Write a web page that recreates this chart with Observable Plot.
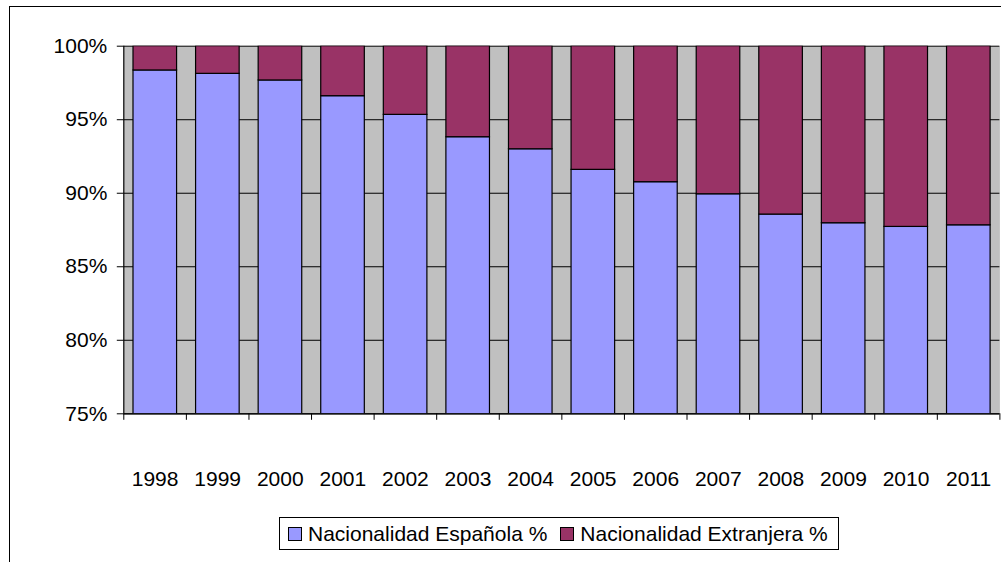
<!DOCTYPE html>
<html>
<head>
<meta charset="utf-8">
<script src="https://cdn.jsdelivr.net/npm/d3@7"></script>
<script src="https://cdn.jsdelivr.net/npm/@observablehq/plot@0.6"></script>
<style>
  html, body { margin: 0; padding: 0; background: #fff; }
  #wrap { position: relative; width: 1001px; height: 562px; overflow: hidden; font-family: "Liberation Sans", Arial, sans-serif; }
  #frame { position: absolute; left: 9px; top: 6px; width: 1200px; height: 800px; border: 1px solid #000; box-sizing: border-box; }
  #chart { position: absolute; left: 0; top: 0; }
  #legend { position: absolute; left: 279px; top: 517px; height: 33px; box-sizing: border-box; border: 1px solid #000; background: #fff;
            display: flex; align-items: center; padding: 0 10px 0 8px; font-size: 21px; color: #000; white-space: nowrap; }
  .item { display: flex; align-items: center; }
  .item + .item { margin-left: 13px; }
  .sw { width: 12px; height: 12px; border: 1px solid #000; margin-right: 6px; }
</style>
</head>
<body>
<div id="wrap">
  <div id="frame"></div>
  <div id="chart"></div>
  <div id="legend"></div>
</div>
<script>
const years = [1998, 1999, 2000, 2001, 2002, 2003, 2004, 2005, 2006, 2007, 2008, 2009, 2010, 2011];
const espanola = [98.35, 98.12, 97.67, 96.60, 95.33, 93.81, 92.99, 91.59, 90.75, 89.93, 88.55, 87.96, 87.71, 87.82];
const extranjera = [1.65, 1.88, 2.33, 3.40, 4.67, 6.19, 7.01, 8.41, 9.25, 10.07, 11.45, 12.04, 12.29, 12.18];
const seriesNames = ["Nacionalidad Española %", "Nacionalidad Extranjera %"];
const seriesColors = ["#9999FF", "#993366"];
const yTicks = [75, 80, 85, 90, 95, 100];

const data = years.flatMap((yr, i) => [
  {year: yr, series: seriesNames[0], value: espanola[i]},
  {year: yr, series: seriesNames[1], value: extranjera[i]}
]);
const boundaries = years.concat([years[years.length - 1] + 1]);

const chart = Plot.plot({
  width: 1001,
  height: 500,
  marginLeft: 123.3,
  marginRight: 1.6,
  marginTop: 45.7,
  marginBottom: 86.7,
  x: {type: "linear", domain: [years[0], years[years.length - 1] + 1]},
  y: {domain: [75, 100]},
  color: {domain: seriesNames, range: seriesColors},
  style: {fontFamily: "'Liberation Sans', Arial, sans-serif", fontSize: "21px", color: "#000", background: "transparent", overflow: "visible"},
  marks: [
    Plot.frame({fill: "#C0C0C0", stroke: null}),
    Plot.ruleY(yTicks, {stroke: "#000", strokeWidth: 1}),
    Plot.rectY(data, {x1: "year", x2: d => d.year + 1, y: "value", fill: "series", stroke: "#000", strokeWidth: 1.2, insetLeft: 9.7, insetRight: 9.3, clip: true}),
    Plot.ruleX([years[0]], {stroke: "#000", strokeWidth: 1.2}),
    Plot.ruleY([75], {stroke: "#000", strokeWidth: 1.2}),
    Plot.axisY({ticks: yTicks, tickFormat: d => d + "%", tickSize: 6.5, tickPadding: 10, label: null, stroke: "#000"}),
    Plot.axisX({ticks: boundaries, tickFormat: () => "", tickSize: 6.5, label: null, stroke: "#000"}),
    Plot.axisX({ticks: years.map(y => y + 0.5), tickFormat: d => String(Math.floor(d)), tickSize: 0, tickPadding: 57, label: null})
  ]
});
document.getElementById("chart").appendChild(chart);

const legend = document.getElementById("legend");
seriesNames.forEach((name, i) => {
  const item = document.createElement("div");
  item.className = "item";
  const sw = document.createElement("div");
  sw.className = "sw";
  sw.style.background = seriesColors[i];
  const t = document.createElement("span");
  t.textContent = name;
  item.appendChild(sw);
  item.appendChild(t);
  legend.appendChild(item);
});
</script>
</body>
</html>
